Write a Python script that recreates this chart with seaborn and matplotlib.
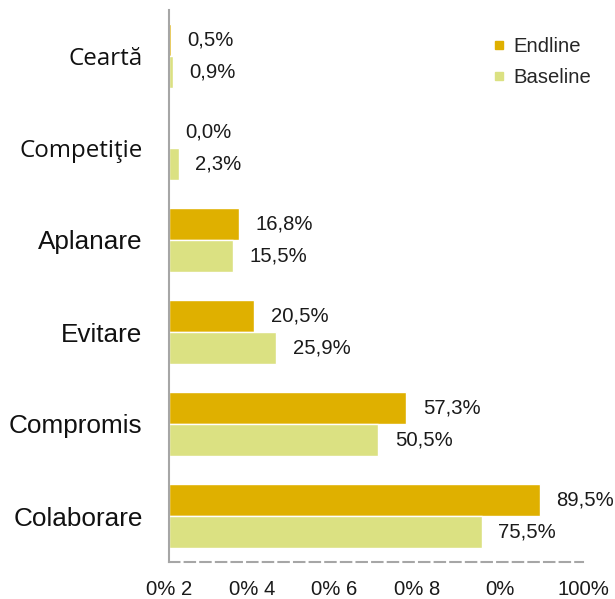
import matplotlib
matplotlib.use('Agg')
import matplotlib.pyplot as plt
import matplotlib.transforms as mtransforms
from matplotlib.lines import Line2D
import pandas as pd
import seaborn as sns

# Data
categories = ['Ceartă', 'Competiţie', 'Aplanare', 'Evitare', 'Compromis', 'Colaborare']
endline = [0.5, 0.0, 16.8, 20.5, 57.3, 89.5]
baseline = [0.9, 2.3, 15.5, 25.9, 50.5, 75.5]
series = ['Endline', 'Baseline']
colors = ['#dfb000', '#dbe182']
xticks = [0, 20, 40, 60, 80, 100]
xtick_labels = ['0% 2', '0% 4', '0% 6', '0% 8', '0%', '100%']

df = pd.DataFrame({
    'category': categories * 2,
    'series': ['Endline'] * len(categories) + ['Baseline'] * len(categories),
    'value': endline + baseline,
})

sns.set_style('white')
plt.rcParams['font.family'] = ['Liberation Sans', 'DejaVu Sans']

fig = plt.figure(figsize=(6.15, 5.99), dpi=100)
ax = fig.add_axes([169 / 615, 37 / 599, 414 / 615, 552 / 599])

sns.barplot(data=df, x='value', y='category', hue='series', order=categories,
            hue_order=series, palette=colors, saturation=1, orient='h', width=0.69,
            edgecolor='white', linewidth=1, legend=False, ax=ax)

# value labels
for cont, vals in zip(ax.containers, [endline, baseline]):
    ax.bar_label(cont, labels=[f'{v:.1f}%'.replace('.', ',') for v in vals],
                 padding=12, fontsize=14.6, color='#1a1a1a')

ax.set_xlim(0, 100)
ax.set_ylim(5.5, -0.5)
ax.set_xlabel('')
ax.set_ylabel('')

ax.set_xticks(xticks)
ax.set_xticklabels(xtick_labels, fontsize=14.6, color='#1a1a1a')
shifts = [9, 14, 14, 15, 5, 0]
for lab, dx in zip(ax.get_xticklabels(), shifts):
    lab.set_transform(lab.get_transform() +
                      mtransforms.ScaledTranslation(dx / 100, 0, fig.dpi_scale_trans))
ax.tick_params(axis='x', direction='out', length=4, width=1.5, color='#a6a6a6', pad=9)
ax.tick_params(axis='y', length=0, pad=19, labelsize=18.8, labelcolor='#111111')
for lab in ax.get_yticklabels()[:2]:
    lab.set_fontfamily(['Open Sans', 'DejaVu Sans'])
    lab.set_fontsize(17.4)

for s in ['top', 'right']:
    ax.spines[s].set_visible(False)
ax.spines['left'].set_color('#a6a6a6')
ax.spines['left'].set_linewidth(1.5)
ax.spines['bottom'].set_color('#a6a6a6')
ax.spines['bottom'].set_linewidth(1.5)
ax.spines['bottom'].set_linestyle((0, (5, 2.5)))

handles = [Line2D([], [], marker='s', linestyle='none', markersize=6,
                  markerfacecolor=c, markeredgecolor=c) for c in colors]
fig.legend(handles, series, loc='upper left', bbox_to_anchor=(493 / 615, 1 - 37 / 599),
           frameon=False, fontsize=14.6, handlelength=0.6, handletextpad=0.4,
           labelspacing=0.6, borderpad=0, borderaxespad=0)

fig.savefig('out.png', dpi=100)
